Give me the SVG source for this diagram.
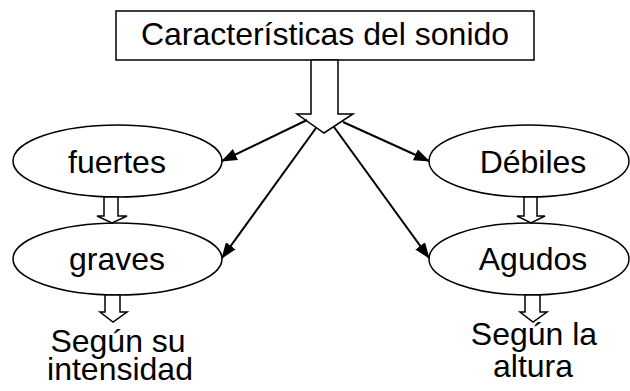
<svg xmlns="http://www.w3.org/2000/svg" width="630" height="391" viewBox="0 0 630 391">
<style>
.shape{fill:#fff;stroke:#000;stroke-width:1.5}
.lbl{font-family:"Liberation Sans",Arial,sans-serif;font-size:32px;fill:#000;text-anchor:middle}
.con{stroke:#000;stroke-width:2;fill:none;marker-end:url(#ah)}
</style>
<defs>
<marker id="ah" viewBox="0 0 16 12" refX="15" refY="6" markerWidth="16" markerHeight="12" markerUnits="userSpaceOnUse" orient="auto">
<path d="M0,0 L16,6 L0,12 Z" fill="#000"/>
</marker>
</defs>
<rect width="630" height="391" fill="#fff"/>
<g id="title">
<rect class="shape" x="116" y="11" width="418" height="49"/>
<text class="lbl" x="325" y="45">Características del sonido</text>
</g>
<g id="main-arrow">
<polygon class="shape" points="311,60 338,60 338,114 353,114 324,133 297,114 311,114"/>
</g>
<g id="fuertes">
<ellipse class="shape" cx="117.5" cy="161" rx="104.5" ry="36"/>
<text class="lbl" x="117" y="173">fuertes</text>
</g>
<g id="graves">
<ellipse class="shape" cx="117.5" cy="259" rx="104.5" ry="36"/>
<text class="lbl" x="117" y="270">graves</text>
</g>
<g id="debiles">
<ellipse class="shape" cx="529" cy="161" rx="100" ry="36"/>
<text class="lbl" x="533" y="173">Débiles</text>
</g>
<g id="agudos">
<ellipse class="shape" cx="529" cy="259" rx="100" ry="36"/>
<text class="lbl" x="533" y="270">Agudos</text>
</g>
<g id="intensidad">
<text class="lbl" x="118" y="352">Según su</text>
<text class="lbl" x="120" y="380">intensidad</text>
</g>
<g id="altura">
<text class="lbl" x="534" y="345">Según la</text>
<text class="lbl" x="533" y="377">altura</text>
</g>
<g id="connectors">
<line class="con" x1="307" y1="120" x2="222" y2="161"/>
<line class="con" x1="316" y1="128" x2="222" y2="258"/>
<line class="con" x1="343" y1="122" x2="429" y2="161"/>
<line class="con" x1="334" y1="127" x2="429" y2="258"/>
<polygon class="shape" points="104,197 118,197 118,216 127,216 112,223 97,216 104,216"/>
<polygon class="shape" points="105,295 120,295 120,312 127,312 113,322 100,312 105,312"/>
<polygon class="shape" points="524,197 537,197 537,216 545,216 531,223 517,216 524,216"/>
<polygon class="shape" points="525,295 540,295 540,312 547,312 533,322 520,312 525,312"/>
</g>
</svg>
